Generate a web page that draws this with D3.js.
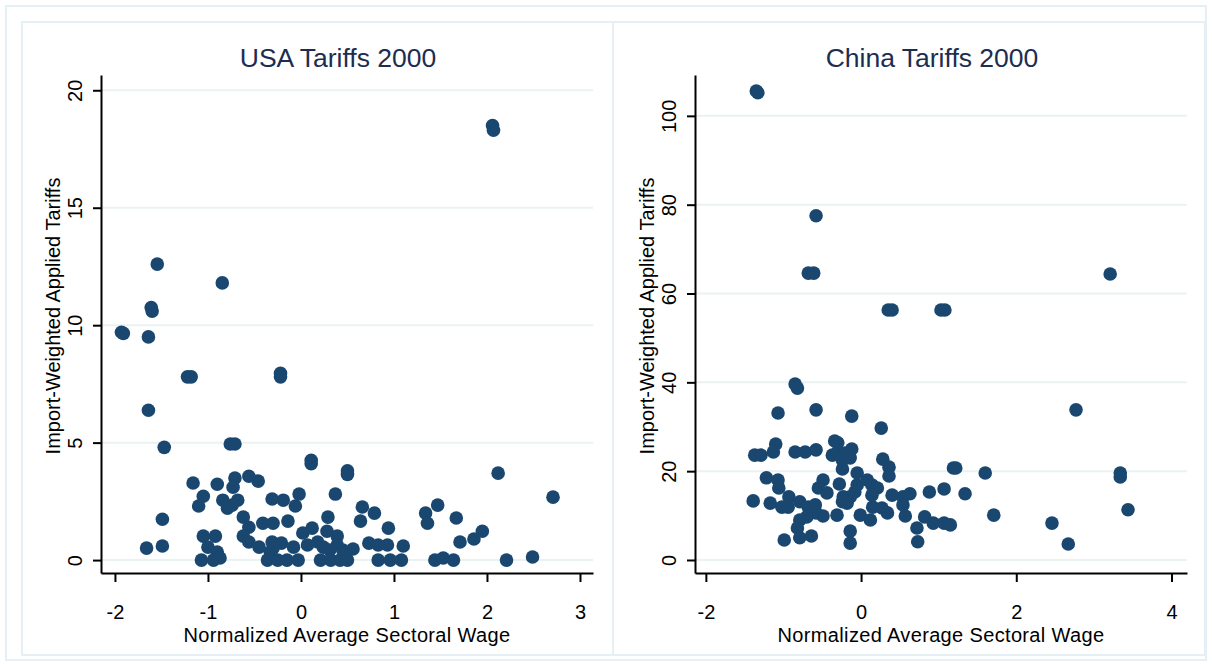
<!DOCTYPE html>
<html>
<head>
<meta charset="utf-8">
<script src="https://cdn.jsdelivr.net/npm/d3@7"></script>
<style>
  body { margin: 0; background: #fff; }
  text { font-family: "Liberation Sans", Arial, Helvetica, sans-serif; }
</style>
</head>
<body>
<svg id="chart" width="1212" height="664"></svg>
<script>
// normalized wage, tariff
const usaPoints = [
  [-1.93, 9.7], [-1.91, 9.65], [-1.545, 12.6], [-0.846, 11.8], [-1.61, 10.75], [-1.60, 10.6],
  [-1.64, 9.5], [-1.22, 7.8], [-1.18, 7.8], [-0.22, 7.95], [-0.22, 7.8], [2.06, 18.5], [2.07, 18.3],
  [-1.64, 6.38], [-1.47, 4.8], [-0.76, 4.94], [-0.71, 4.94], [0.11, 4.25], [0.11, 4.1],
  [0.5, 3.8], [0.5, 3.65], [-1.16, 3.28], [-0.9, 3.23], [-0.71, 3.49], [-0.73, 3.1],
  [-0.56, 3.57], [-0.46, 3.36], [-1.05, 2.72], [-1.1, 2.3], [-0.84, 2.55], [-0.68, 2.55],
  [-0.79, 2.21], [-0.74, 2.34], [-0.31, 2.6], [-0.19, 2.55], [-0.06, 2.3], [-0.02, 2.81],
  [0.37, 2.81], [-1.49, 1.74], [-0.62, 1.83], [-0.56, 1.4], [-0.41, 1.57], [-0.3, 1.57],
  [-0.14, 1.66], [0.29, 1.83], [0.02, 1.15], [0.12, 1.36], [0.28, 1.23], [0.39, 1.02],
  [-1.66, 0.51], [-1.49, 0.6], [-1.05, 1.02], [-0.92, 1.02], [-1.0, 0.55], [-0.9, 0.34],
  [-0.87, 0.09], [-1.07, 0], [-0.94, 0], [-0.62, 1.02], [-0.56, 0.77], [-0.45, 0.55],
  [-0.31, 0.77], [-0.21, 0.72], [-0.3, 0.51], [-0.33, 0.34], [-0.36, 0], [-0.25, 0],
  [-0.15, 0], [-0.03, 0], [-0.08, 0.55], [0.07, 0.64], [0.18, 0.77], [0.24, 0.55],
  [0.31, 0.43], [0.21, 0], [0.32, 0], [0.42, 0], [0.5, 0], [0.39, 0.64], [0.45, 0.43],
  [2.12, 3.7], [2.71, 2.68], [0.66, 2.26], [0.64, 1.66], [0.79, 2.0], [0.94, 1.36],
  [1.34, 2.0], [1.36, 1.57], [1.47, 2.34], [1.67, 1.79], [1.71, 0.77], [1.86, 0.9],
  [1.95, 1.23], [0.56, 0.47], [0.73, 0.72], [0.83, 0.64], [0.93, 0.64], [1.1, 0.6],
  [0.83, 0], [0.96, 0], [1.08, 0], [1.44, 0], [1.53, 0.09], [1.64, 0], [2.21, 0], [2.49, 0.13]
];

const chinaPoints = [
  [-1.35, 105.6], [-1.33, 105.2], [-0.58, 77.5], [-0.68, 64.6], [-0.61, 64.6], [0.35, 56.3],
  [0.4, 56.3], [1.03, 56.3], [1.08, 56.3], [3.21, 64.4], [-0.85, 39.6], [-0.82, 38.7],
  [-1.07, 33.1], [-0.58, 33.8], [-0.12, 32.4], [0.26, 29.7], [-1.1, 26.1], [-1.13, 24.3],
  [-1.37, 23.6], [-1.29, 23.6], [-0.85, 24.3], [-0.72, 24.3], [-0.58, 24.8], [-0.34, 26.8],
  [-0.3, 26.4], [-0.37, 23.6], [-0.3, 24.3], [-0.21, 24.1], [-0.12, 25.0], [-0.14, 23.0],
  [-0.24, 22.5], [-0.24, 20.5], [0.28, 22.7], [0.36, 20.9], [0.36, 18.9], [-0.05, 19.6],
  [-1.22, 18.5], [-1.07, 18.0], [-1.06, 16.2], [-1.39, 13.3], [-1.17, 12.8], [-0.93, 14.2],
  [-1.02, 11.9], [-0.94, 11.9], [-0.79, 13.1], [-0.68, 11.9], [-0.59, 12.4], [-0.49, 18.0],
  [-0.55, 16.2], [-0.44, 15.1], [-0.28, 17.1], [-0.05, 16.9], [0.08, 18.0], [0.14, 16.9],
  [0.21, 16.2], [0.14, 14.6], [-0.23, 14.2], [-0.24, 13.1], [-0.14, 14.2], [-0.08, 15.3],
  [-0.18, 12.8], [-0.58, 10.6], [-0.49, 9.9], [-0.31, 10.1], [-0.7, 9.7], [-0.79, 9.0],
  [-0.82, 7.2], [-0.99, 4.5], [-0.79, 5.0], [-0.64, 5.4], [-0.14, 6.5], [-0.14, 3.8],
  [-0.01, 10.1], [0.12, 9.0], [0.15, 11.9], [0.27, 11.7], [0.34, 10.6], [0.4, 14.6],
  [0.54, 14.2], [0.63, 14.9], [0.57, 9.9], [0.54, 12.4], [0.72, 7.2], [0.73, 4.1],
  [0.88, 15.3], [1.07, 16.0], [0.82, 9.7], [0.93, 8.3], [1.07, 8.3], [1.15, 7.9],
  [1.19, 20.7], [1.22, 20.7], [1.34, 14.9], [1.6, 19.6], [2.77, 33.8], [3.34, 19.6],
  [3.34, 18.7], [1.71, 10.1], [3.44, 11.3], [2.46, 8.3], [2.67, 3.6]
];

const usaXTicks = [-2, -1, 0, 1, 2, 3];
const usaYTicks = [0, 5, 10, 15, 20];
const chinaXTicks = [-2, 0, 2, 4];
const chinaYTicks = [0, 20, 40, 60, 80, 100];
const titles = ["USA Tariffs 2000", "China Tariffs 2000"];
const xLabel = "Normalized Average Sectoral Wage";
const yLabel = "Import-Weighted Applied Tariffs";

const frameColor = "#e6eff3";
const gridColor = "#eaf2f4";
const markerColor = "#1a476f";
const titleColor = "#1c2d52";

const svg = d3.select("#chart");

// outer frame + the two sub-graph frames
svg.append("rect").attr("x", 6).attr("y", 6).attr("width", 1200).attr("height", 654)
  .attr("fill", "none").attr("stroke", frameColor).attr("stroke-width", 2);
svg.append("rect").attr("x", 22).attr("y", 22).attr("width", 591).attr("height", 633)
  .attr("fill", "none").attr("stroke", frameColor).attr("stroke-width", 2);
svg.append("rect").attr("x", 613).attr("y", 22).attr("width", 592).attr("height", 633)
  .attr("fill", "none").attr("stroke", frameColor).attr("stroke-width", 2);

function drawPanel(p) {
  const g = svg.append("g");
  const x = d3.scaleLinear().domain(p.xDomain).range([p.left, p.right]);
  const y = d3.scaleLinear().domain(p.yDomain).range([p.bottom, p.top]);

  // grid lines
  g.append("g").selectAll("line").data(p.yTicks).join("line")
    .attr("x1", p.left + 1).attr("x2", p.right)
    .attr("y1", d => y(d)).attr("y2", d => y(d))
    .attr("stroke", gridColor).attr("stroke-width", 2);

  // y axis, rotated labels like stata
  const ya = g.append("g").attr("transform", `translate(${p.left},0)`)
    .call(d3.axisLeft(y).tickValues(p.yTicks).tickSize(8).tickSizeOuter(0).tickFormat(d => String(d)));
  ya.selectAll("text")
    .attr("x", 0).attr("y", -19).attr("dy", 0)
    .attr("transform", "rotate(-90)")
    .attr("text-anchor", "middle")
    .style("font-size", "20px").attr("fill", "#000");

  const xa = g.append("g").attr("transform", `translate(0,${p.bottom})`)
    .call(d3.axisBottom(x).tickValues(p.xTicks).tickSize(9).tickSizeOuter(0).tickFormat(d => String(d)));
  xa.selectAll("text").attr("y", 45.5).attr("dy", 0)
    .style("font-size", "20px").attr("fill", "#000");

  g.selectAll(".domain, .tick line").attr("stroke", "#000").attr("stroke-width", 2);

  // points
  g.append("g").selectAll("circle").data(p.points).join("circle")
    .attr("cx", d => x(d[0])).attr("cy", d => y(d[1]))
    .attr("r", 6.8).attr("fill", markerColor);

  // titles
  g.append("text").attr("x", (p.left + p.right) / 2 - 9).attr("y", 67)
    .attr("text-anchor", "middle").style("font-size", "26.5px").attr("fill", titleColor)
    .text(p.title);
  g.append("text").attr("x", (p.left + p.right) / 2).attr("y", p.bottom + 69)
    .attr("text-anchor", "middle").style("font-size", "20px").style("letter-spacing", "0.35px")
    .attr("fill", "#000")
    .text(xLabel);
  g.append("text")
    .attr("transform", `translate(${p.left - 41.5},${(p.top + p.bottom) / 2 - 8}) rotate(-90)`)
    .attr("text-anchor", "middle").style("font-size", "20px").attr("fill", "#000")
    .text(yLabel);
}

drawPanel({
  title: titles[0], points: usaPoints,
  left: 101, right: 593, top: 75, bottom: 573,
  xDomain: [-2.15, 3.14], yDomain: [-0.55, 20.65],
  xTicks: usaXTicks, yTicks: usaYTicks
});

drawPanel({
  title: titles[1], points: chinaPoints,
  left: 695, right: 1187, top: 75, bottom: 573,
  xDomain: [-2.14, 4.2], yDomain: [-2.93, 109.2],
  xTicks: chinaXTicks, yTicks: chinaYTicks
});
</script>
</body>
</html>
